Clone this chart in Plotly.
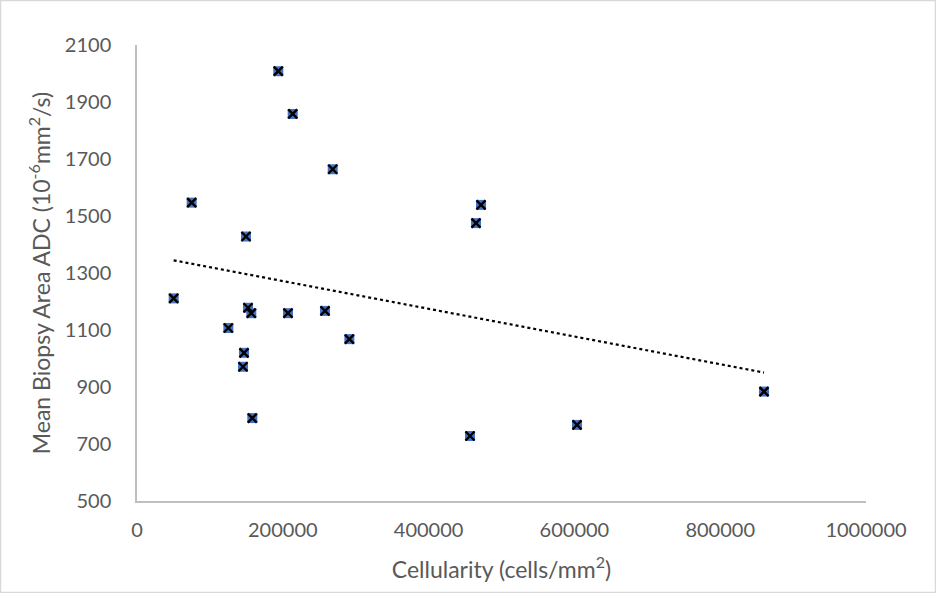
import numpy as np
import plotly.graph_objects as go

# Data
cellularity = [50300, 75000, 125300, 145400, 146800, 149500, 152300, 156800, 158200,
               193800, 207100, 213600, 257900, 268500, 291300, 456800, 465000, 471900,
               603600, 860100]
adc = [1211, 1547, 1107, 971, 1020, 1428, 1178, 1159, 791,
       2008, 1159, 1858, 1167, 1664, 1068, 728, 1475, 1539,
       767, 884]

x_ticks = [0, 200000, 400000, 600000, 800000, 1000000]
y_ticks = [500, 700, 900, 1100, 1300, 1500, 1700, 1900, 2100]

FONT = "Lato"
GREY_TXT = "#595959"
AXIS_COL = "#BFBFBF"

# linear trendline from the data
slope, intercept = np.polyfit(cellularity, adc, 1)
tx = np.array([min(cellularity), max(cellularity)])
ty = slope * tx + intercept

fig = go.Figure()
fig.add_trace(go.Scatter(x=tx, y=ty, mode="lines",
                         line=dict(color="black", width=2.2, dash="dot"),
                         showlegend=False, hoverinfo="skip"))
fig.add_trace(go.Scatter(x=cellularity, y=adc, mode="markers",
                         marker=dict(symbol="square", size=10, color="#4472C4",
                                     line=dict(width=0)),
                         showlegend=False))
fig.add_trace(go.Scatter(x=cellularity, y=adc, mode="markers",
                         marker=dict(symbol="x-thin-open", size=9, color="black",
                                     line=dict(width=2.4, color="black")),
                         showlegend=False, hoverinfo="skip"))

L, R, T, B = 137, 70, 45, 92
W, H = 936, 593
pw, ph = W - L - R, H - T - B

fig.update_layout(
    width=W, height=H,
    margin=dict(l=L, r=R, t=T, b=B),
    paper_bgcolor="white", plot_bgcolor="white",
    font=dict(family=FONT, color=GREY_TXT, size=20),
    xaxis=dict(range=[0, 1000000], tickvals=x_ticks, tickformat="d",
               showgrid=False, zeroline=False, showline=True,
               linecolor=AXIS_COL, linewidth=1.5, ticks="",
               ticklabelstandoff=10,
               tickfont=dict(family=FONT, size=20, color=GREY_TXT),
               title=dict(text="Cellularity (cells/mm<sup>2</sup>)",
                          font=dict(family=FONT, size=23, color=GREY_TXT),
                          standoff=22)),
    yaxis=dict(range=[500, 2100], tickvals=y_ticks,
               showgrid=False, zeroline=False, showline=True,
               linecolor=AXIS_COL, linewidth=1.5, ticks="",
               ticklabelstandoff=20,
               tickfont=dict(family=FONT, size=20, color=GREY_TXT),
               title=dict(text="Mean Biopsy Area ADC (10<sup>-6</sup>mm<sup>2</sup>/s)",
                          font=dict(family=FONT, size=23, color=GREY_TXT),
                          standoff=8)),
)

# chart-area border
fig.add_shape(type="rect", xref="paper", yref="paper",
              x0=(0.5 - L) / pw, x1=(W - 0.5 - L) / pw,
              y0=-(B - 0.5) / ph, y1=1 + (T - 0.5) / ph,
              line=dict(color="#D9D9D9", width=1.5), fillcolor="rgba(0,0,0,0)",
              layer="below")

fig.write_html("out.html", config={"displayModeBar": False},
               post_script="document.body.style.margin='0';document.body.style.overflow='hidden';")
